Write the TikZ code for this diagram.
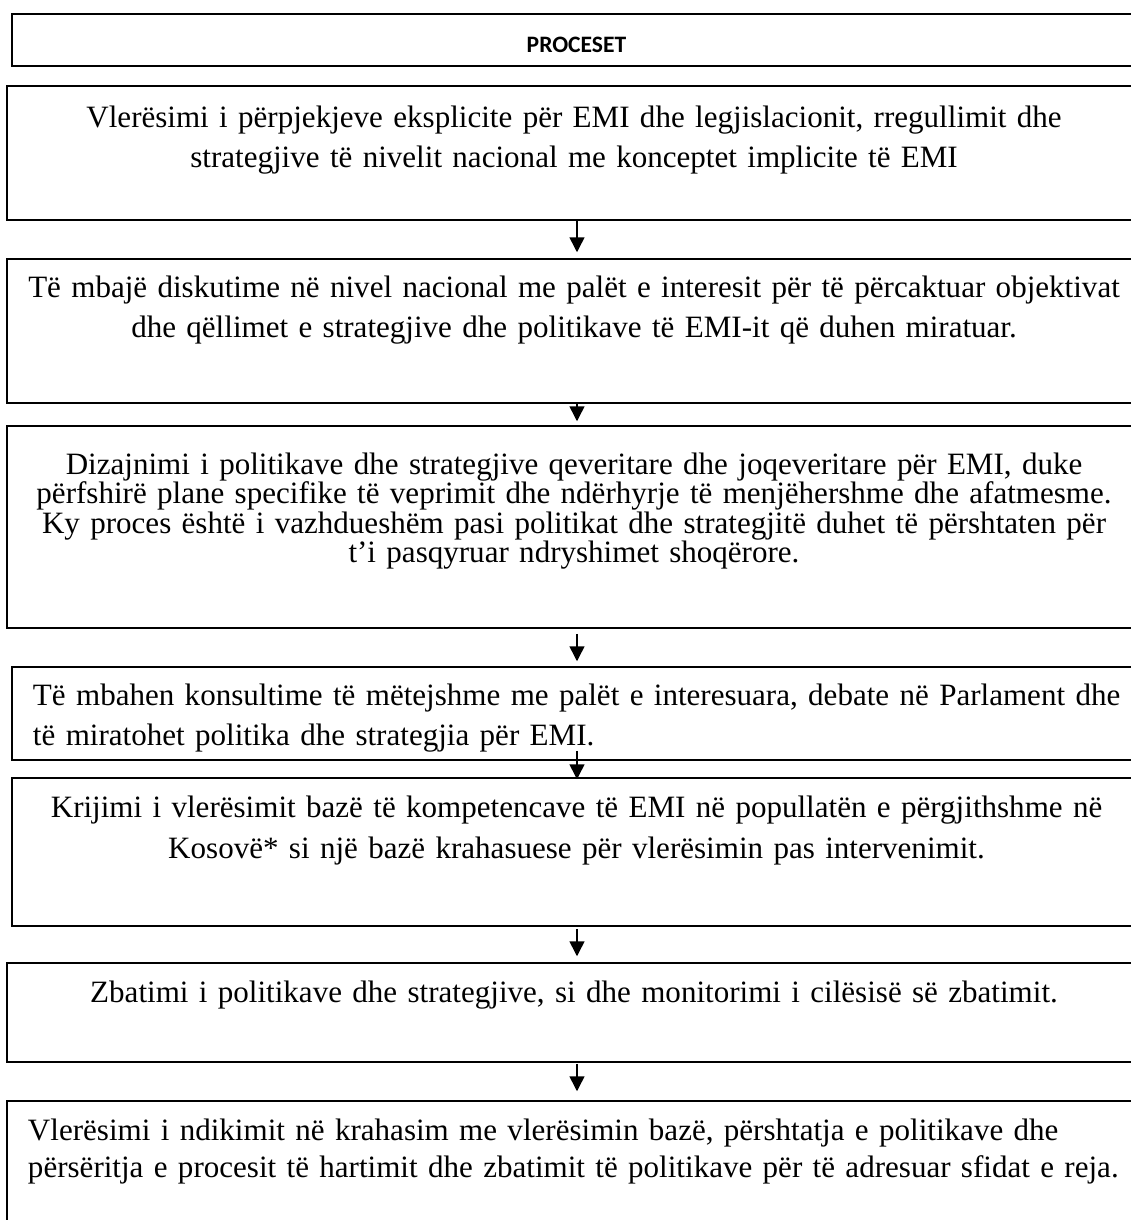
\documentclass[tikz,border=0pt]{standalone}
\usepackage{fontspec}
\setmainfont{Liberation Serif}
\newfontfamily\headfont{Carlito}
\usetikzlibrary{arrows.meta}
\newcommand{\pxu}{0.467pt}

\begin{document}
\begin{tikzpicture}[
    x=\pxu, y=-\pxu,
    stage/.style n args={3}{rectangle, draw, line width=0.7pt, anchor=base,
        inner xsep=0pt, inner ysep=0pt, align=center,
        text width=#1*\pxu, text height=#2*\pxu, text depth=#3*\pxu},
    leftstage/.style={align=left, inner xsep=21*\pxu},
    wide/.style={font=\fontsize{14.5pt}{18.7pt}\selectfont},
    flow/.style={line width=0.7pt, -{Triangle[length=7pt, width=7pt]}}
]

% --- Frame ---
\useasboundingbox (0,0) rectangle (1131,1220);
\clip (0,0) rectangle (1131,1220);

% --- Heading ---
\node[stage={1129}{38}{14}, font=\headfont\bfseries\fontsize{11pt}{13pt}\selectfont] (head) at (576.5,52) {PROCESET};

% --- Process boxes ---
\node[stage={1134}{41}{93}, wide] (b1) at (574,127)
    {Vlerësimi i përpjekjeve eksplicite për EMI dhe legjislacionit, rregullimit dhe\\
     strategjive të nivelit nacional me konceptet implicite të EMI};

\node[stage={1134}{38}{106}, wide] (b2) at (574,297)
    {Të mbajë diskutime në nivel nacional me palët e interesit për të përcaktuar objektivat\\
     dhe qëllimet e strategjive dhe politikave të EMI-it që duhen miratuar.};

\node[stage={1134}{48}{154}, font=\fontsize{14.5pt}{13.8pt}\selectfont] (b3) at (574,474)
    {Dizajnimi i politikave dhe strategjive qeveritare dhe joqeveritare për EMI, duke\\
     përfshirë plane specifike të veprimit dhe ndërhyrje të menjëhershme dhe afatmesme.\\
     Ky proces është i vazhdueshëm pasi politikat dhe strategjitë duhet të përshtaten për\\
     t’i pasqyruar ndryshimet shoqërore.};

\node[stage={1110}{38}{55}, leftstage, wide] (b4) at (588,705)
    {Të mbahen konsultime të mëtejshme me palët e interesuara, debate në Parlament dhe\\
     të miratohet politika dhe strategjia për EMI.};

\node[stage={1129}{39}{109}, font=\fontsize{14.5pt}{19.2pt}\selectfont] (b5) at (576.5,817)
    {Krijimi i vlerësimit bazë të kompetencave të EMI në popullatën e përgjithshme në\\
     Kosovë* si një bazë krahasuese për vlerësimin pas intervenimit.};

\node[stage={1134}{39}{60}, wide] (b6) at (574,1002)
    {Zbatimi i politikave dhe strategjive, si dhe monitorimi i cilësisë së zbatimit.};

\node[stage={1110}{39}{100}, leftstage, font=\fontsize{14.5pt}{17.3pt}\selectfont] (b7) at (583,1140)
    {Vlerësimi i ndikimit në krahasim me vlerësimin bazë, përshtatja e politikave dhe\\
     përsëritja e procesit të hartimit dhe zbatimit të politikave për të adresuar sfidat e reja.};

% --- Arrows between the boxes ---
\coordinate (ax) at (577,0);
\foreach \a/\b/\s/\e in {b1/b2/0/6, b2/b3/0/4, b3/b4/5/5, b4/b5/-10/-2, b5/b6/2/6, b6/b7/1/9}
{
    \draw[flow, shorten <=\s*\pxu, shorten >=\e*\pxu] (\a.south -| ax) -- (\b.north -| ax);
}

\end{tikzpicture}
\end{document}
